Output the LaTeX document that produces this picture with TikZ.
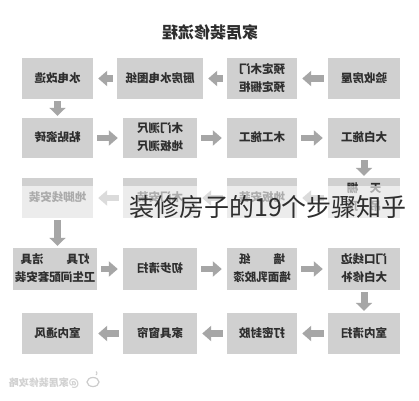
\documentclass[tikz,border=0pt]{standalone}
\usepackage{fontspec}
\usepackage{graphicx}
\newfontfamily\cjk{Noto Sans CJK SC}
\usetikzlibrary{arrows.meta}
\definecolor{boxgray}{HTML}{D0D0D0}
\definecolor{arrgray}{HTML}{A6A6A6}
\definecolor{txt}{HTML}{2E2E2E}
\newcommand{\mtext}[1]{\reflectbox{\begin{tabular}{@{}c@{}}#1\end{tabular}}}
\begin{document}
\begin{tikzpicture}[x=1pt,y=-1pt,
  stepbox/.style={rectangle, fill=boxgray, draw=none, minimum width=71pt,
    minimum height=41pt, inner sep=0pt,
    font=\cjk\bfseries\fontsize{11.5}{18}\selectfont, text=txt},
  hflow/.style={draw=arrgray, line width=6.5pt,
    -{Triangle[width=15pt,length=9pt]}, shorten <=4pt, shorten >=5pt},
  vflow/.style={draw=arrgray, line width=7pt,
    -{Triangle[width=16pt,length=8pt]}, shorten <=2pt, shorten >=2pt}]
\useasboundingbox (0,0) rectangle (419,400);
\fill[white] (0,0) rectangle (419,400);

% title
\node[font=\cjk\bfseries\fontsize{16}{16}\selectfont, text=txt] (title) at (210,32) {\reflectbox{家居装修流程}};

% row 1
\node[stepbox, minimum width=71pt] (n4) at (57.5,78.5) {\mtext{水电改造}};
\node[stepbox, minimum width=86pt] (n3) at (160,78.5) {\mtext{厨房水电图纸}};
\node[stepbox, minimum width=70pt] (n2) at (262,78.5) {\mtext{预定木门\\预定橱柜}};
\node[stepbox, minimum width=72pt] (n1) at (364,78.5) {\mtext{验收房屋}};
% row 2
\node[stepbox, minimum height=40pt] (n5) at (57.5,138) {\mtext{粘贴瓷砖}};
\node[stepbox, minimum height=40pt, minimum width=74pt] (n6) at (160,138) {\mtext{木门测尺\\地板测尺}};
\node[stepbox, minimum height=40pt, minimum width=70pt] (n7) at (262,138) {\mtext{木工施工}};
\node[stepbox, minimum height=40pt, minimum width=72pt] (n8) at (364,138) {\mtext{大白施工}};
% row 3
\node[stepbox, minimum height=40pt, minimum width=72pt] (n9) at (364,198) {\mtext{天　棚\\吊　顶}};
\node[stepbox, minimum height=40pt, minimum width=70pt] (n10) at (262,198) {\mtext{地板安装}};
\node[stepbox, minimum height=40pt, minimum width=74pt] (n11) at (160,198) {\mtext{木门安装}};
\node[stepbox, minimum height=40pt] (n12) at (57.5,198) {\mtext{地脚线安装}};
% row 4
\node[stepbox, minimum height=42pt, minimum width=84pt] (n13) at (55,269) {\mtext{灯具　　洁具\\卫生间配套安装}};
\node[stepbox, minimum height=42pt, minimum width=74pt] (n14) at (160,269) {\mtext{初步清扫}};
\node[stepbox, minimum height=42pt, minimum width=70pt] (n15) at (262,269) {\mtext{墙　　纸\\墙面乳胶漆}};
\node[stepbox, minimum height=42pt, minimum width=72pt] (n16) at (364,269) {\mtext{门口线边\\大白修补}};
% row 5
\node[stepbox, minimum width=72pt] (n17) at (364,333.5) {\mtext{室内清扫}};
\node[stepbox, minimum width=70pt] (n18) at (262,333.5) {\mtext{打密封胶}};
\node[stepbox, minimum width=74pt] (n19) at (160,333.5) {\mtext{家具窗帘}};
\node[stepbox] (n20) at (57.5,333.5) {\mtext{室内通风}};

% connectors
\draw[hflow] (n1) -- (n2);
\draw[hflow] (n2) -- (n3);
\draw[hflow] (n3) -- (n4);
\draw[vflow] (n4) -- (n5);
\draw[hflow] (n5) -- (n6);
\draw[hflow] (n6) -- (n7);
\draw[hflow] (n7) -- (n8);
\draw[vflow] (n8) -- (n9);
\draw[hflow] (n9) -- (n10);
\draw[hflow] (n10) -- (n11);
\draw[hflow] (n11) -- (n12);
\draw[vflow] (n12.south) -- (n12.south |- n13.north);
\draw[hflow] (n13) -- (n14);
\draw[hflow] (n14) -- (n15);
\draw[hflow] (n15) -- (n16);
\draw[vflow] (n16) -- (n17);
\draw[hflow] (n17) -- (n18);
\draw[hflow] (n18) -- (n19);
\draw[hflow] (n19) -- (n20);

% faded band and overlay caption
\fill[white, opacity=0.6] (0,186) rectangle (419,220);
\node[anchor=west, font=\cjk\fontsize{25}{25}\selectfont, text=black!82, inner sep=0pt] (cap) at (129,207) {装修房子的19个步骤知乎};

% watermark
\node[font=\cjk\bfseries\fontsize{10}{10}\selectfont, text=black!18, inner sep=0pt] (wb) at (44,383) {\reflectbox{@家居装修攻略}};
\draw[black!20, line width=1.2pt] (93,382) ellipse (6pt and 4.5pt);
\draw[black!20, line width=1pt] (96,375) arc (-60:60:2pt);
\end{tikzpicture}
\end{document}
